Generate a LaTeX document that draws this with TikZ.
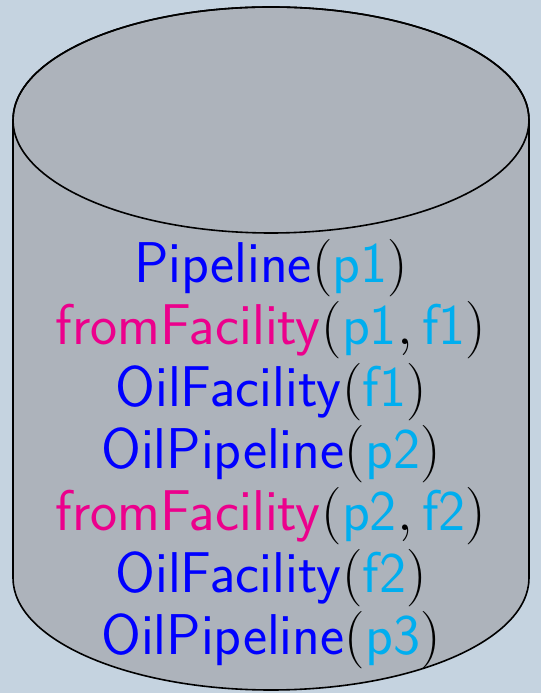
\RequirePackage{fix-cm}
\documentclass[tikz,border=0pt]{standalone}
\usepackage{xcolor}
\definecolor{bgc}{RGB}{197,211,224}
\definecolor{cylc}{RGB}{173,179,187}
\definecolor{predc}{RGB}{0,0,255}
\definecolor{rolec}{HTML}{EC008C}
\definecolor{indc}{HTML}{00AEEF}
\newcommand{\cP}[1]{\textcolor{predc}{\mathsf{#1}}}
\newcommand{\cR}[1]{\textcolor{rolec}{\mathsf{#1}}}
\newcommand{\cI}[1]{\textcolor{indc}{\mathsf{#1}}}
\begin{document}
\begin{tikzpicture}[x=1pt,y=1pt,
  cyl/.style={fill=cylc,draw=black,line width=1.6pt},
  facts/.style={align=center,inner sep=0pt,font=\fontsize{57.5}{62}\selectfont}]
\fill[bgc] (0,0) rectangle (541,693);
\useasboundingbox (0,0) rectangle (541,693);
\path[cyl] (13,573) -- (13,115) arc (180:360:258 and 112) -- (529,573) arc (0:180:258 and 113) -- cycle;
\draw[line width=1.6pt] (271,573) ellipse (258 and 113);
\node[facts] (kb) at (271,239) {%
$\cP{Pipeline}(\cI{p1})$\\
$\cR{fromFacility}(\cI{p1},\cI{f1})$\\
$\cP{OilFacility}(\cI{f1})$\\
$\cP{OilPipeline}(\cI{p2})$\\
$\cR{fromFacility}(\cI{p2},\cI{f2})$\\
$\cP{OilFacility}(\cI{f2})$\\
$\cP{OilPipeline}(\cI{p3})$};
\end{tikzpicture}
\end{document}
